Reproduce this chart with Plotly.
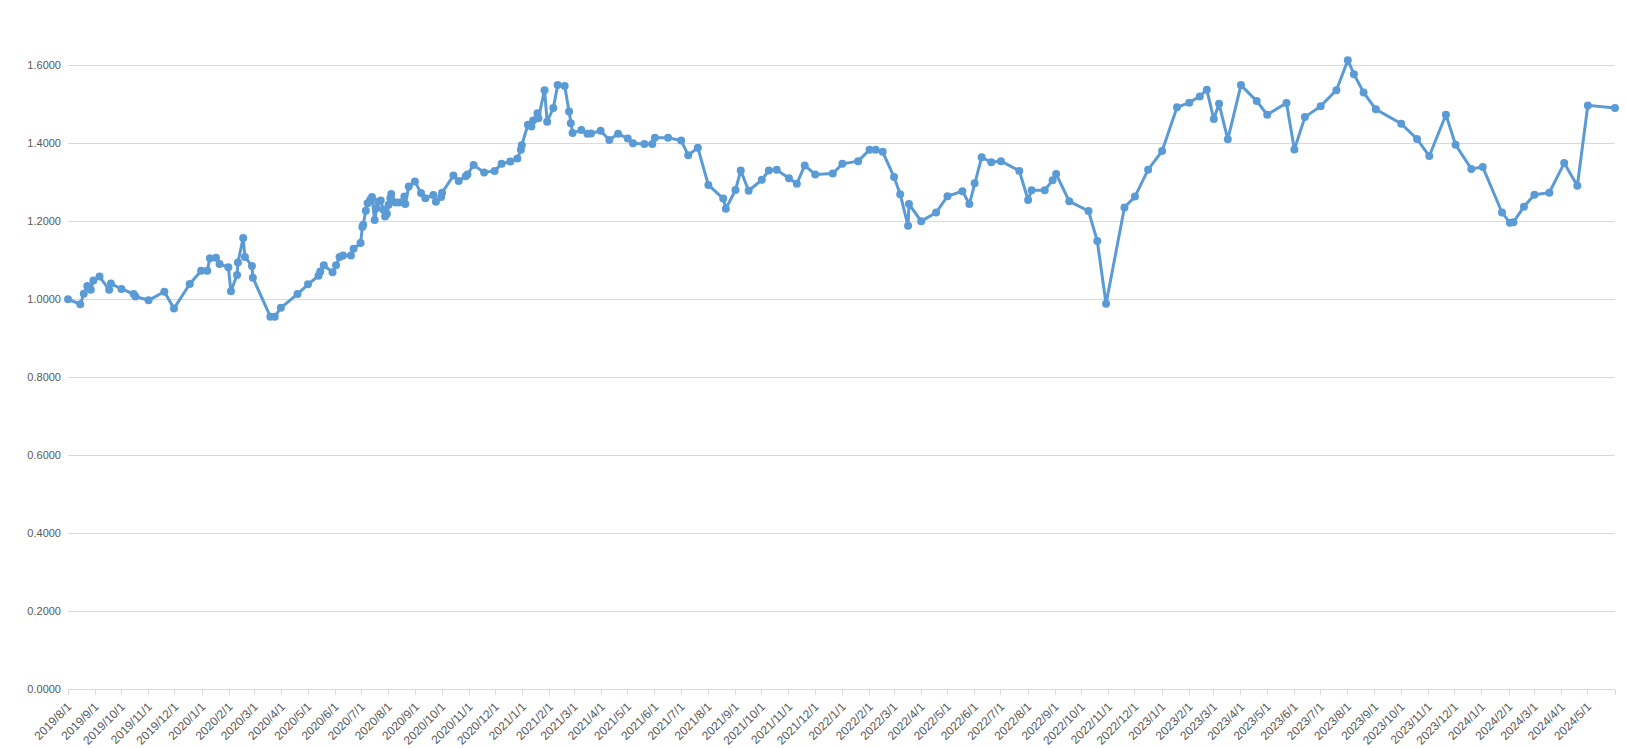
import plotly.graph_objects as go
import pandas as pd

dates = [
    "2019-08-01", "2019-08-15", "2019-08-19", "2019-08-23", "2019-08-27", "2019-08-30",
    "2019-09-06", "2019-09-17", "2019-09-19", "2019-10-01", "2019-10-15", "2019-10-17",
    "2019-11-01", "2019-11-19", "2019-11-30", "2019-12-18", "2019-12-31",
    "2020-01-07", "2020-01-10", "2020-01-17", "2020-01-21", "2020-01-31",
    "2020-02-03", "2020-02-10", "2020-02-11", "2020-02-17", "2020-02-19", "2020-02-27", "2020-02-28",
    "2020-03-19", "2020-03-24", "2020-03-31", "2020-04-19", "2020-05-01", "2020-05-13",
    "2020-05-15", "2020-05-19", "2020-05-29", "2020-06-02", "2020-06-06", "2020-06-10",
    "2020-06-19", "2020-06-22", "2020-06-30", "2020-07-02", "2020-07-03", "2020-07-06",
    "2020-07-08", "2020-07-11", "2020-07-13", "2020-07-16", "2020-07-18", "2020-07-20",
    "2020-07-23", "2020-07-26", "2020-07-28", "2020-07-30", "2020-08-01", "2020-08-03",
    "2020-08-04", "2020-08-09", "2020-08-13", "2020-08-19", "2020-08-20", "2020-08-24",
    "2020-08-31", "2020-09-07", "2020-09-12", "2020-09-21", "2020-09-24", "2020-09-30",
    "2020-10-01", "2020-10-14", "2020-10-20", "2020-10-28", "2020-10-30", "2020-11-06",
    "2020-11-18", "2020-11-30", "2020-12-08", "2020-12-18", "2020-12-26", "2020-12-30",
    "2020-12-31", "2021-01-07", "2021-01-11", "2021-01-13", "2021-01-18", "2021-01-19",
    "2021-01-26", "2021-01-29", "2021-02-05", "2021-02-10", "2021-02-18", "2021-02-23",
    "2021-02-25", "2021-02-27", "2021-03-09", "2021-03-16", "2021-03-20", "2021-03-31",
    "2021-04-10", "2021-04-20", "2021-05-01", "2021-05-07", "2021-05-20", "2021-05-29",
    "2021-06-01", "2021-06-16", "2021-07-01", "2021-07-09", "2021-07-20", "2021-08-01",
    "2021-08-18", "2021-08-21", "2021-09-01", "2021-09-07", "2021-09-16", "2021-10-01",
    "2021-10-09", "2021-10-18", "2021-11-01", "2021-11-10", "2021-11-19", "2021-12-01",
    "2021-12-21", "2022-01-01", "2022-01-19", "2022-02-01", "2022-02-08", "2022-02-16",
    "2022-03-01", "2022-03-08", "2022-03-17", "2022-03-18", "2022-04-01", "2022-04-18",
    "2022-05-01", "2022-05-18", "2022-05-26", "2022-06-01", "2022-06-09", "2022-06-20",
    "2022-07-01", "2022-07-22", "2022-08-01", "2022-08-05", "2022-08-20", "2022-08-29",
    "2022-09-02", "2022-09-17", "2022-10-09", "2022-10-19", "2022-10-29", "2022-11-19",
    "2022-12-01", "2022-12-16", "2023-01-01", "2023-01-18", "2023-02-01", "2023-02-13",
    "2023-02-21", "2023-03-01", "2023-03-07", "2023-03-17", "2023-04-01", "2023-04-19",
    "2023-05-01", "2023-05-23", "2023-06-01", "2023-06-13", "2023-07-01", "2023-07-19",
    "2023-08-01", "2023-08-08", "2023-08-19", "2023-09-02", "2023-10-01", "2023-10-19",
    "2023-11-02", "2023-11-21", "2023-12-02", "2023-12-20", "2024-01-02", "2024-01-24",
    "2024-02-02", "2024-02-06", "2024-02-18", "2024-03-01", "2024-03-18", "2024-04-04",
    "2024-04-19", "2024-05-01", "2024-06-01",
]

values = [
    1.000, 0.987, 1.014, 1.034, 1.024, 1.048,
    1.058, 1.024, 1.040, 1.026, 1.013, 1.007,
    0.997, 1.019, 0.976, 1.039, 1.073,
    1.073, 1.105, 1.106, 1.090, 1.082,
    1.020, 1.062, 1.094, 1.157, 1.108, 1.085, 1.055,
    0.955, 0.955, 0.978, 1.013, 1.038, 1.060,
    1.071, 1.087, 1.069, 1.087, 1.108, 1.112,
    1.112, 1.129, 1.144, 1.185, 1.191, 1.227,
    1.246, 1.255, 1.262, 1.203, 1.233, 1.250,
    1.253, 1.229, 1.212, 1.219, 1.242, 1.259,
    1.270, 1.248, 1.248, 1.263, 1.244, 1.289,
    1.302, 1.272, 1.259, 1.267, 1.250, 1.262,
    1.273, 1.317, 1.303, 1.315, 1.320, 1.344,
    1.325, 1.329, 1.347, 1.353, 1.361, 1.383,
    1.395, 1.447, 1.443, 1.458, 1.477, 1.464,
    1.536, 1.455, 1.490, 1.549, 1.547, 1.481,
    1.451, 1.426, 1.434, 1.424, 1.425, 1.432,
    1.408, 1.424, 1.412, 1.400, 1.398, 1.398,
    1.414, 1.414, 1.407, 1.369, 1.388, 1.293,
    1.258, 1.232, 1.280, 1.330, 1.278, 1.306,
    1.330, 1.332, 1.310, 1.296, 1.343, 1.320,
    1.322, 1.347, 1.354, 1.383, 1.383, 1.378,
    1.313, 1.269, 1.188, 1.244, 1.200, 1.222,
    1.264, 1.277, 1.244, 1.297, 1.364, 1.351,
    1.354, 1.329, 1.254, 1.279, 1.279, 1.305,
    1.321, 1.251, 1.226, 1.149, 0.988, 1.235,
    1.263, 1.332, 1.380, 1.492, 1.504, 1.520,
    1.537, 1.462, 1.501, 1.410, 1.549, 1.508,
    1.473, 1.503, 1.384, 1.467, 1.495, 1.536,
    1.613, 1.577, 1.530, 1.487, 1.450, 1.411,
    1.367, 1.473, 1.396, 1.334, 1.339, 1.222,
    1.196, 1.197, 1.237, 1.268, 1.273, 1.349,
    1.291, 1.497, 1.490,
]

tick_dates = pd.date_range("2019-08-01", "2024-06-01", freq="MS")
tick_labels = [f"{d.year}/{d.month}/1" for d in tick_dates[:-1]] + [""]

y_ticks = [0, 0.2, 0.4, 0.6, 0.8, 1.0, 1.2, 1.4, 1.6]

fig = go.Figure()
fig.add_trace(go.Scatter(
    x=dates, y=values, mode="lines+markers",
    line=dict(color="#5B9BD5", width=3),
    marker=dict(color="#5B9BD5", size=8),
    cliponaxis=False, showlegend=False,
))

fig.update_layout(
    width=1626, height=748,
    margin=dict(l=68, r=11, t=20, b=59),
    paper_bgcolor="white", plot_bgcolor="white",
    font=dict(family="Liberation Sans, Arial, sans-serif", size=11, color="#595959"),
)
fig.update_xaxes(
    type="date", range=["2019-08-01", "2024-06-01"],
    tickmode="array", tickvals=list(tick_dates), ticktext=tick_labels,
    tickangle=-45, tickfont=dict(size=12),
    showgrid=False, showline=True, linecolor="#D9D9D9", linewidth=1,
    ticks="outside", ticklen=5, tickcolor="#D9D9D9", zeroline=False,
    automargin=False,
)
fig.update_yaxes(
    range=[0, 1.716], tickmode="array", tickvals=y_ticks,
    ticktext=[f"{v:.4f}" for v in y_ticks],
    showgrid=True, gridcolor="#D9D9D9", gridwidth=1, zeroline=False, showline=False,
    ticks="", ticklabelstandoff=6, automargin=False,
)

fig.write_html(
    "out.html",
    config={"displayModeBar": False},
    post_script="document.body.style.margin='0';document.body.style.overflow='hidden';",
)
